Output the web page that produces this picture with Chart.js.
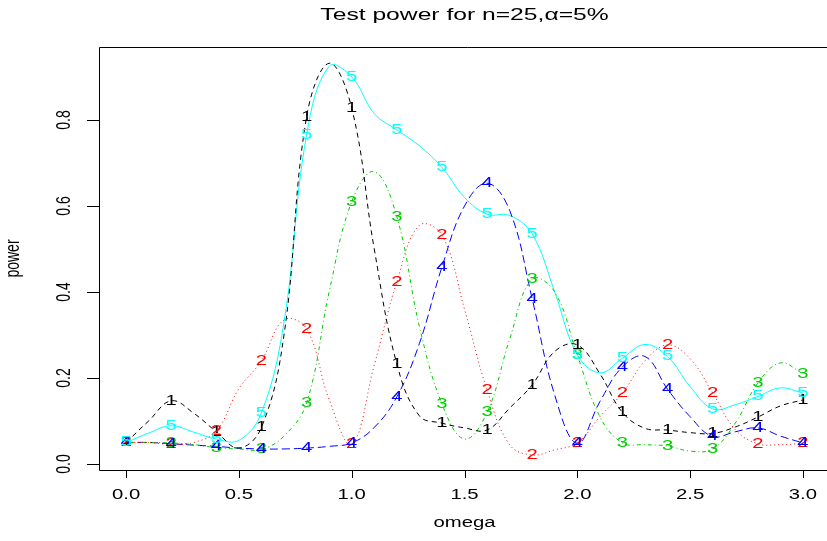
<!DOCTYPE html>
<html>
<head>
<meta charset="UTF-8">
<title>Test power</title>
<script src="https://cdn.jsdelivr.net/npm/chart.js"></script>
<style>
  html, body { margin: 0; padding: 0; background: #fff; overflow: hidden; }
  #wrap { width: 840px; height: 541px; }
</style>
</head>
<body>
<div id="wrap"><canvas id="chart" width="840" height="541"></canvas></div>
<script>
// omega grid the curves were read at (labels sit on every second point)
const omega = [0.0,0.1,0.2,0.3,0.4,0.5,0.6,0.7,0.8,0.9,1.0,1.1,1.2,1.3,1.4,1.5,
               1.6,1.7,1.8,1.9,2.0,2.1,2.2,2.3,2.4,2.5,2.6,2.7,2.8,2.9,3.0];
const power1 = [0.05,0.10,0.147,0.118,0.075,0.037,0.085,0.30,0.807,0.932,0.828,0.50,0.233,0.112,0.095,0.084,
                0.079,0.13,0.184,0.262,0.277,0.21,0.12,0.083,0.079,0.073,0.071,0.086,0.109,0.135,0.149];
const power2 = [0.05,0.05,0.046,0.05,0.077,0.175,0.24,0.335,0.314,0.15,0.046,0.23,0.423,0.555,0.532,0.36,
                0.172,0.045,0.021,0.033,0.049,0.11,0.165,0.24,0.277,0.245,0.165,0.08,0.047,0.045,0.048];
const power3 = [0.05,0.05,0.049,0.045,0.038,0.035,0.034,0.065,0.142,0.40,0.61,0.68,0.575,0.32,0.14,0.058,
                0.12,0.29,0.43,0.40,0.253,0.11,0.049,0.045,0.042,0.03,0.035,0.095,0.188,0.235,0.21];
const power4 = [0.05,0.05,0.047,0.044,0.041,0.037,0.035,0.035,0.037,0.041,0.049,0.085,0.156,0.28,0.458,0.60,
                0.653,0.59,0.384,0.16,0.048,0.145,0.226,0.25,0.174,0.11,0.064,0.075,0.084,0.065,0.049];
const power5 = [0.05,0.072,0.089,0.074,0.058,0.055,0.119,0.33,0.765,0.925,0.90,0.815,0.777,0.74,0.69,0.62,
                0.581,0.578,0.535,0.40,0.254,0.212,0.246,0.278,0.25,0.18,0.128,0.138,0.157,0.177,0.165];
const seriesNames = ['1','2','3','4','5'];
const xTicks = [0.0,0.5,1.0,1.5,2.0,2.5,3.0];
const yTicks = [0.0,0.2,0.4,0.6,0.8];

const allSeries = [power1, power2, power3, power4, power5];
const colors = ['#000000','#FF0000','#00CD00','#0000FF','#00FFFF'];
const dashes = [[5,4],[1,3],[1,3,4,3],[8,4],[]];
const FONT = "'Liberation Sans', Arial, sans-serif";
const SX = 1.45; // the picture is stretched sideways

function stretchedText(ctx, txt, x, y, size, align, base, rot) {
  ctx.save();
  ctx.translate(x, y);
  ctx.scale(SX, 1);
  if (rot) ctx.rotate(rot);
  ctx.font = size + 'px ' + FONT;
  ctx.textAlign = align;
  ctx.textBaseline = base;
  ctx.fillText(txt, 0, 0);
  ctx.restore();
}

const rPlot = {
  id: 'rPlot',
  afterDatasetsDraw(chart) {
    const ctx = chart.ctx, xs = chart.scales.x, ys = chart.scales.y;
    allSeries.forEach((vals, s) => {
      ctx.fillStyle = colors[s];
      for (let i = 0; i < omega.length; i += 2) {
        stretchedText(ctx, seriesNames[s], xs.getPixelForValue(omega[i]),
          ys.getPixelForValue(vals[i]), 14, 'center', 'middle');
      }
    });
  },
  afterDraw(chart) {
    const ctx = chart.ctx, a = chart.chartArea, xs = chart.scales.x, ys = chart.scales.y;
    ctx.save();
    ctx.strokeStyle = '#000';
    ctx.lineWidth = 1;
    ctx.beginPath();
    ctx.moveTo(a.right + 5, Math.round(a.top) + 0.5);
    ctx.lineTo(Math.round(a.left) + 0.5, Math.round(a.top) + 0.5);
    ctx.lineTo(Math.round(a.left) + 0.5, Math.round(a.bottom) + 0.5);
    ctx.lineTo(a.right + 5, Math.round(a.bottom) + 0.5);
    xTicks.forEach(v => {
      const px = Math.round(xs.getPixelForValue(v)) + 0.5;
      ctx.moveTo(px, a.bottom);
      ctx.lineTo(px, a.bottom + 8);
    });
    yTicks.forEach(v => {
      const py = Math.round(ys.getPixelForValue(v)) + 0.5;
      ctx.moveTo(a.left, py);
      ctx.lineTo(a.left - 12, py);
    });
    ctx.stroke();
    ctx.fillStyle = '#000';
    xTicks.forEach(v => {
      stretchedText(ctx, v.toFixed(1), xs.getPixelForValue(v), 499, 14, 'center', 'alphabetic');
    });
    yTicks.forEach(v => {
      stretchedText(ctx, v.toFixed(1), 70, ys.getPixelForValue(v), 14, 'center', 'alphabetic', -Math.PI / 2);
    });
    const cx = (a.left + a.right) / 2, cy = (a.top + a.bottom) / 2;
    stretchedText(ctx, 'Test power for n=25,\u03B1=5%', cx, 20, 17, 'center', 'alphabetic');
    stretchedText(ctx, 'omega', cx, 527, 14, 'center', 'alphabetic');
    stretchedText(ctx, 'power', 19, cy, 14, 'center', 'alphabetic', -Math.PI / 2);
    ctx.restore();
  }
};

new Chart(document.getElementById('chart'), {
  type: 'line',
  data: {
    datasets: allSeries.map((vals, s) => ({
      label: seriesNames[s],
      data: omega.map((x, i) => ({ x: x, y: vals[i] })),
      borderColor: colors[s],
      borderDash: dashes[s],
      borderWidth: 1,
      pointRadius: 0,
      tension: 0.4,
      fill: false
    }))
  },
  options: {
    responsive: false,
    animation: false,
    devicePixelRatio: 1,
    layout: { padding: { left: 99, right: 10, top: 47, bottom: 71 } },
    plugins: { legend: { display: false }, title: { display: false }, tooltip: { enabled: false } },
    scales: {
      x: { type: 'linear', min: -0.12, max: 3.12, display: false },
      y: { type: 'linear', min: -0.01395, max: 0.9698, display: false }
    }
  },
  plugins: [rPlot]
});
</script>
</body>
</html>
